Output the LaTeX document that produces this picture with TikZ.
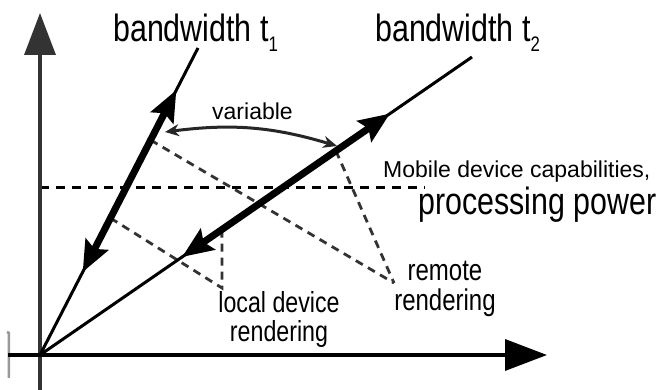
\documentclass[tikz,border=0pt]{standalone}
\usepackage{fontspec}
\setmainfont{Liberation Sans}
\newfontfamily\narrowsf{Liberation Sans}[FakeStretch=0.8]
\usetikzlibrary{arrows.meta,calc}
\newcommand{\lowidx}[1]{\raisebox{-10pt}{\fontsize{21}{21}\selectfont #1}}

\begin{document}
\begin{tikzpicture}[x=10pt, y=10pt,
    axis/.style={line width=3.5pt, -{Triangle[length=42pt,width=31pt]}},
    band/.style={line width=3pt},
    shiftarr/.style={line width=7pt, {Stealth[length=31pt,width=25pt,inset=5pt]}-{Stealth[length=31pt,width=25pt,inset=5pt]}},
    proj/.style={line width=2.8pt, black!80, dash pattern=on 8pt off 6pt},
    level/.style={line width=3pt, dash pattern=on 9pt off 7pt},
    swing/.style={line width=3pt, black!85, {Stealth[length=14pt,width=12pt]}-{Stealth[length=14pt,width=12pt]}},
    big/.style={font=\narrowsf\fontsize{38}{40}\selectfont, inner sep=0pt},
    mid/.style={font=\narrowsf\fontsize{29}{29}\selectfont, inner sep=0pt, align=center},
    small/.style={font=\fontsize{23}{25}\selectfont, inner sep=0pt}
]
\useasboundingbox (-4,-3.5) rectangle (62.2,35.5);

\coordinate (O) at (0,0);
\coordinate (ybot) at (0,-3.5);
\coordinate (ytop) at (0,34.2);
\coordinate (xleft) at (-3.2,0);
\coordinate (xright) at (50.7,0);
\coordinate (t1end) at (15.8,30.7);
\coordinate (t2end) at (43.2,29.8);

% projections onto the two bandwidth lines
\coordinate (rr) at (35.4,7.2);
\coordinate (lc) at (18.2,6.7);
\coordinate (cap0) at (0,16.7);
\coordinate (cap1) at (38.5,16.7);
\draw[level] (cap0) -- (cap1);
\draw[proj] ($(O)!0.70!(t1end)$) -- (rr);
\draw[proj] ($(O)!0.685!(t2end)$) -- (rr);
\draw[proj] ($(O)!0.446!(t1end)$) -- (lc) -- ($(O)!0.421!(t2end)$);

\draw[line width=2.5pt, black!40] (-3.3,2.3) -- (-3.1,2.2) -- (-3.1,-2.3);
\draw[axis, black!80] (ybot) -- (ytop);
\draw[axis] (xleft) -- (xright);

\draw[band] (O) -- (t1end);
\draw[band] (O) -- (t2end);
\draw[shiftarr] ($(O)!0.27!(t1end)$) -- ($(O)!0.863!(t1end)$);
\draw[shiftarr] ($(O)!0.329!(t2end)$) -- ($(O)!0.81!(t2end)$);

\coordinate (swingL) at (12.5,22.3);
\coordinate (swingR) at (29.7,20.9);
\draw[swing] (swingL) to[bend left=12] (swingR);

\node[big, anchor=base west] (bw1) at (7.3,31.3) {bandwidth t\lowidx{1}};
\node[big, anchor=base west] (bw2) at (33.5,31.3) {bandwidth t\lowidx{2}};
\node[small, anchor=base west] (var) at (17.2,23.5) {variable};
\node[small, anchor=base west] (mob) at (34.3,17.7) {Mobile device capabilities,};
\node[big, anchor=base west] (proc) at (37.8,14.0) {processing power};
\node[mid] (local) at (23.9,3.5) {local device\\rendering};
\node[mid, font=\narrowsf\fontsize{30}{30}\selectfont] (remote) at (40.5,6.6) {remote\\rendering};
\end{tikzpicture}
\end{document}
